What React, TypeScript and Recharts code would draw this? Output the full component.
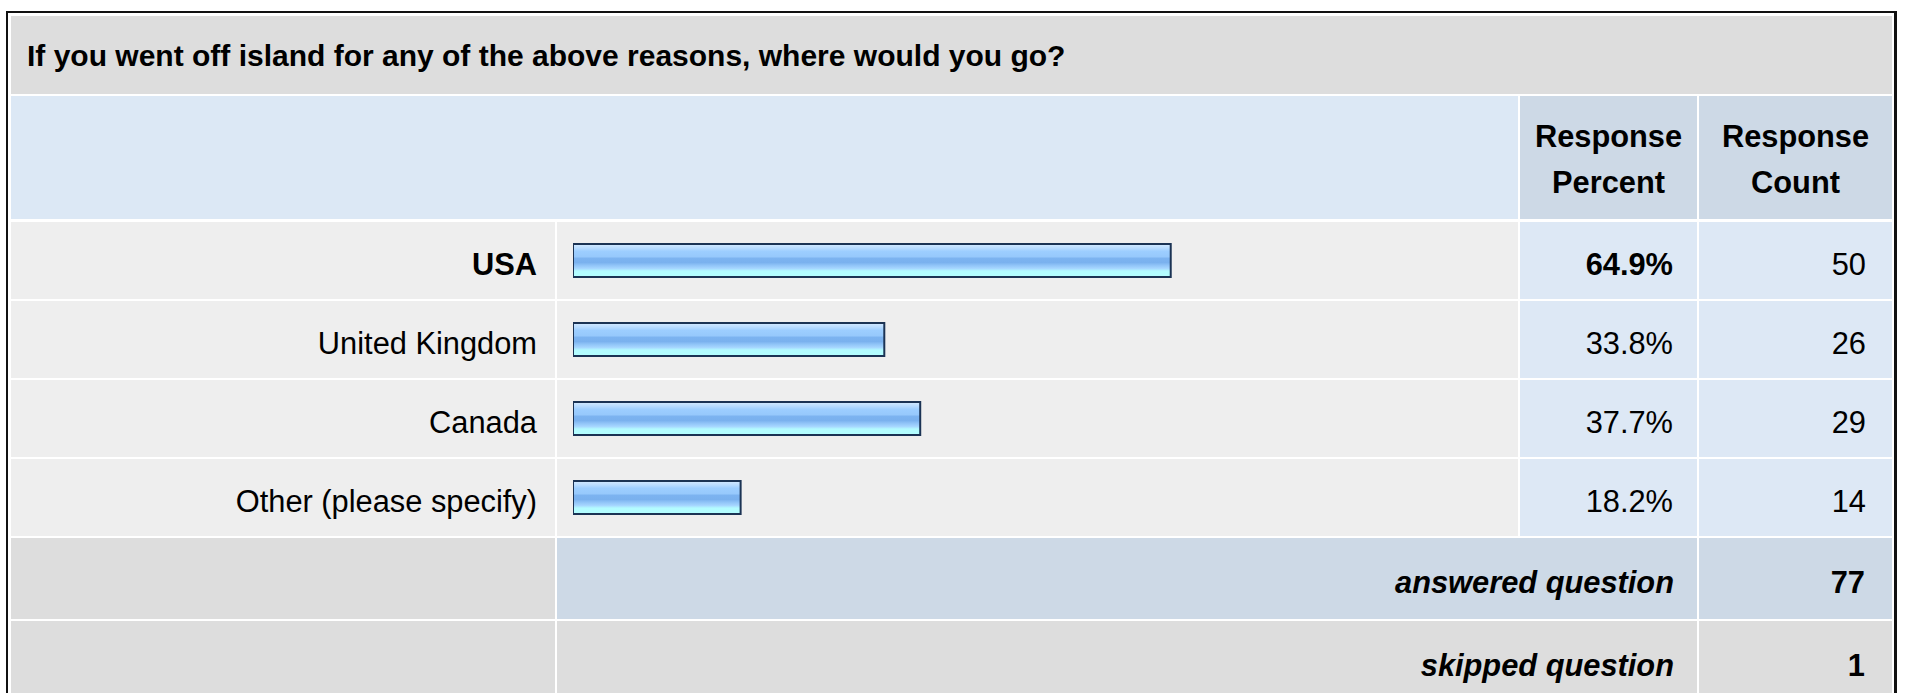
import React from "react";
import { BarChart, Bar, XAxis, YAxis } from "recharts";

const title = "If you went off island for any of the above reasons, where would you go?";
const headerPercent = ["Response", "Percent"];
const headerCount = ["Response", "Count"];
const categories = ["USA", "United Kingdom", "Canada", "Other (please specify)"];
const responsePercent = [64.9, 33.8, 37.7, 18.2];
const responseCount = [50, 26, 29, 14];
const answeredLabel = "answered question";
const answeredCount = 77;
const skippedLabel = "skipped question";
const skippedCount = 1;

const FONT = "'Liberation Sans', Arial, Helvetica, sans-serif";

const X_LABEL = 11;
const X_BAR = 557;
const X_PCT = 1520;
const X_CNT = 1699;
const X_END = 1892;
const ROW_TOPS = [222, 301, 380, 459];
const ROW_H = 77;
const TEXT_SIZE = 30.8;

type CellProps = {
  x: number;
  y: number;
  w: number;
  h: number;
  bg: string;
  align?: "left" | "right" | "center";
  pr?: number;
  pl?: number;
  pt?: number;
  bold?: boolean;
  italic?: boolean;
  size?: number;
  lh?: number;
  children?: React.ReactNode;
};

function Cell({ x, y, w, h, bg, align = "left", pr = 0, pl = 0, pt = 8, bold, italic, size = TEXT_SIZE, lh = 37, children }: CellProps) {
  return (
    <div
      style={{
        position: "absolute",
        left: x,
        top: y,
        width: w,
        height: h,
        background: bg,
        display: "flex",
        alignItems: "center",
        justifyContent: align === "right" ? "flex-end" : align === "center" ? "center" : "flex-start",
        textAlign: align,
        paddingRight: pr,
        paddingLeft: pl,
        paddingTop: pt,
        boxSizing: "border-box",
        fontFamily: FONT,
        fontSize: size,
        fontWeight: bold ? 700 : 400,
        fontStyle: italic ? "italic" : "normal",
        color: "#000",
        lineHeight: `${lh}px`,
        whiteSpace: "nowrap",
      }}
    >
      {children}
    </div>
  );
}

export default function App() {
  const maxPct = Math.max(...responsePercent);
  const data = categories.map((c, i) => ({ name: c, pct: responsePercent[i] }));

  return (
    <div style={{ position: "absolute", left: 0, top: 0, width: 1907, height: 693, overflow: "hidden", background: "#fff" }}>
      <div
        style={{
          position: "absolute",
          left: 6,
          top: 11,
          width: 1891,
          height: 760,
          border: "2px solid #111",
          borderRightWidth: 3,
          boxSizing: "border-box",
        }}
      />
      {/* title */}
      <Cell x={X_LABEL} y={16} w={X_END - X_LABEL} h={78} bg="#dddddd" pl={16} pt={0} bold size={30}>
        {title}
      </Cell>
      {/* header */}
      <Cell x={X_LABEL} y={96} w={X_PCT - 2 - X_LABEL} h={123} bg="#dce8f5" />
      <Cell x={X_PCT} y={96} w={X_CNT - 2 - X_PCT} h={123} bg="#cdd9e6" align="center" bold lh={46} pt={4}>
        <div>
          {headerPercent[0]}
          <br />
          {headerPercent[1]}
        </div>
      </Cell>
      <Cell x={X_CNT} y={96} w={X_END - X_CNT} h={123} bg="#cdd9e6" align="center" bold lh={46} pt={4}>
        <div>
          {headerCount[0]}
          <br />
          {headerCount[1]}
        </div>
      </Cell>
      {/* data rows */}
      {categories.map((c, i) => {
        const top = ROW_TOPS[i];
        const isMax = responsePercent[i] === maxPct;
        return (
          <React.Fragment key={c}>
            <Cell x={X_LABEL} y={top} w={X_BAR - 2 - X_LABEL} h={ROW_H} bg="#eeeeee" align="right" pr={18} bold={isMax}>
              {c}
            </Cell>
            <Cell x={X_BAR} y={top} w={X_PCT - 2 - X_BAR} h={ROW_H} bg="#eeeeee" />
            <Cell x={X_PCT} y={top} w={X_CNT - 2 - X_PCT} h={ROW_H} bg="#dde8f5" align="right" pr={24} bold={isMax}>
              {responsePercent[i].toFixed(1)}%
            </Cell>
            <Cell x={X_CNT} y={top} w={X_END - X_CNT} h={ROW_H} bg="#dde8f5" align="right" pr={26}>
              {responseCount[i]}
            </Cell>
          </React.Fragment>
        );
      })}
      {/* answered */}
      <Cell x={X_LABEL} y={538} w={X_BAR - 2 - X_LABEL} h={81} bg="#dddddd" />
      <Cell x={X_BAR} y={538} w={X_CNT - 2 - X_BAR} h={81} bg="#cdd9e6" align="right" pr={23} bold italic>
        {answeredLabel}
      </Cell>
      <Cell x={X_CNT} y={538} w={X_END - X_CNT} h={81} bg="#cdd9e6" align="right" pr={27} bold>
        {answeredCount}
      </Cell>
      {/* skipped */}
      <Cell x={X_LABEL} y={621} w={X_BAR - 2 - X_LABEL} h={80} bg="#dddddd" />
      <Cell x={X_BAR} y={621} w={X_CNT - 2 - X_BAR} h={80} bg="#dddddd" align="right" pr={23} bold italic>
        {skippedLabel}
      </Cell>
      <Cell x={X_CNT} y={621} w={X_END - X_CNT} h={80} bg="#dddddd" align="right" pr={27} bold>
        {skippedCount}
      </Cell>

      {/* bars */}
      <div style={{ position: "absolute", left: 573, top: 221 }}>
        <BarChart
          width={926}
          height={316}
          data={data}
          layout="vertical"
          margin={{ top: 0, right: 5, bottom: 0, left: 0 }}
        >
          <defs>
            <linearGradient id="barGrad" x1="0" y1="0" x2="0" y2="1">
              <stop offset="0" stopColor="#d4eaff" />
              <stop offset="0.12" stopColor="#b9dcff" />
              <stop offset="0.22" stopColor="#9dceff" />
              <stop offset="0.38" stopColor="#97c9fc" />
              <stop offset="0.44" stopColor="#7cb3f0" />
              <stop offset="0.56" stopColor="#7ab1ee" />
              <stop offset="0.64" stopColor="#8fc3f7" />
              <stop offset="0.74" stopColor="#a6d6ff" />
              <stop offset="0.82" stopColor="#b3fbff" />
              <stop offset="1" stopColor="#b3ffff" />
            </linearGradient>
          </defs>
          <XAxis type="number" domain={[0, 100]} hide />
          <YAxis type="category" dataKey="name" hide />
          <Bar
            dataKey="pct"
            barSize={33}
            fill="url(#barGrad)"
            stroke="#1b3354"
            strokeWidth={2}
            isAnimationActive={false}
          />
        </BarChart>
      </div>
    </div>
  );
}
